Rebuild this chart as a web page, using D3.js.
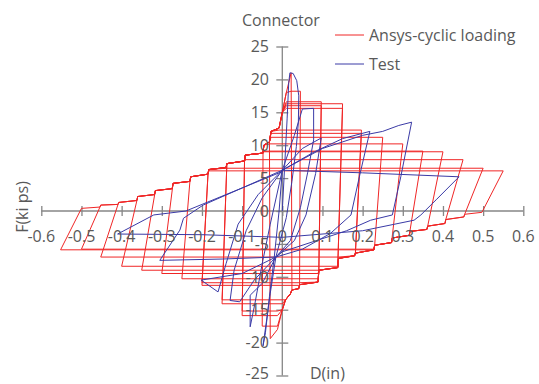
<!DOCTYPE html>
<html><head><meta charset="utf-8">
<script src="https://cdn.jsdelivr.net/npm/d3@7/dist/d3.min.js"></script>
<style>
body{margin:0;background:#fff}
text{font-family:"Open Sans",sans-serif;fill:#595959}
</style>
</head><body>
<svg id="chart" width="539" height="384"></svg>
<script>
// ---------- data ----------
const xTicks = [-0.6,-0.5,-0.4,-0.3,-0.2,-0.1,0,0.1,0.2,0.3,0.4,0.5,0.6];
const xTickLabels = ["-0.6","-0.5","-0.4","-0.3","-0.2","-0.1","0","0.1","0.2","0.3","0.4","0.5","0.6"];
const yTicks = [-25,-20,-15,-10,-5,0,5,10,15,20,25];
const yTickLabels = ["-25","-20","-15","-10","-5","0","5","10","15","20","25"];
const seriesNames = ["Ansys-cyclic loading","Test"];

// Ansys cyclic loops: positive amplitude, top force, unloading offset, negative amplitude, bottom force
const redPosAmp  = [0.022,0.045,0.097,0.097,0.150,0.150,0.197,0.197,0.250,0.300,0.350,0.400,0.450,0.500,0.550];
const redPosTop  = [21.0, 18.2, 16.6, 16.0, 16.3, 15.6, 12.3, 11.8, 11.2, 10.2, 9.1,  9.0,  7.8,  6.5,  6.1];
const redOffset  = [0.000,0.004,0.008,0.008,0.012,0.012,0.017,0.017,0.022,0.028,0.034,0.040,0.045,0.048,0.053];
const redNegAmp  = [0.030,0.050,0.100,0.100,0.150,0.150,0.200,0.200,0.250,0.300,0.350,0.400,0.452,0.500,0.552];
const redNegBot  = [19.4, 17.5, 15.9, 15.2, 14.1, 13.5, 11.3, 10.9, 10.3, 9.5,  9.0,  8.4,  7.0,  5.8,  5.9];

// reloading staircase (upper-left), left to right
const upStairD = [-0.500,-0.454,-0.452,-0.409,-0.407,-0.362,-0.360,-0.318,-0.316,-0.274,-0.272,-0.230,-0.228,-0.185,-0.183,-0.140,-0.138,-0.094,-0.092,-0.048,-0.046,-0.032,-0.028,-0.008,0.000,0.010,0.022];
const upStairF = [ 0.4,  0.6,   0.9,   1.0,   1.3,   1.6,   2.2,   2.5,   3.1,   3.4,   4.2,   4.5,   5.2,   5.6,   6.3,   6.6,   7.2,   7.6,   8.5,   8.8,   10.0,  10.5,  12.1,  12.6,  15.0,  18.0,  21.0];
// unloading staircase (lower-right), right to left
const loStairD = [0.497,0.454,0.452,0.407,0.405,0.362,0.360,0.318,0.316,0.274,0.272,0.230,0.228,0.182,0.180,0.140,0.138,0.091,0.089,0.043,0.041,0.024,0.020,0.008,0.000,-0.012,-0.030];
const loStairF = [-0.2, -0.5, -0.9, -1.3, -1.9, -2.3, -2.8, -3.1, -3.7, -4.1, -4.8, -5.2, -5.9, -6.4, -6.8, -7.2, -8.6, -9.0, -10.8,-11.2,-11.8,-12.0,-12.6,-13.5,-15.0,-18.0,-19.5];

// Test curve (displacement in, force kips)
const blueD = [0,0.006,0.012,0.016,0.019,0.027,0.036,0.041,0.040,0.035,0.024,0.010,-0.016,-0.030,-0.040,-0.048,-0.042,-0.032,-0.020,-0.008,0.000,
  0.030,0.050,0.078,0.078,0.063,0.045,0.020,-0.016,-0.050,-0.080,-0.080,-0.068,-0.050,-0.030,0.000,
  0.050,0.097,0.083,0.059,0.030,-0.016,-0.070,-0.106,-0.130,-0.120,-0.090,-0.050,0.000,
  0.080,0.150,0.218,0.193,0.171,0.120,0.050,-0.016,-0.100,-0.202,-0.160,-0.140,-0.110,-0.060,0.000,
  0.100,0.200,0.250,0.290,0.322,0.295,0.274,0.220,0.160,0.000,-0.016,-0.150,-0.305,-0.255,-0.246,-0.197,-0.100,0.000,
  0.200,0.440,0.383,0.345,0.328,0.200,0.000,-0.200,-0.410,-0.320,-0.240,-0.200,-0.100,0.000];
const blueF = [0,7,14,19.5,21.0,20.9,19.8,17.5,13.5,9.8,4.5,-1,-7,-12.5,-17,-20.5,-18.5,-13,-7,0,6.2,
  11.5,15.5,15.6,10.8,5.8,0.5,-4.5,-7,-11,-12.8,-17.6,-14,-8,-2,6.2,
  9.5,11.1,5.7,-0.6,-4.5,-7,-10.5,-13.8,-13.6,-9,-3,2,6.2,
  9.0,11.0,12.1,5.5,-0.6,-3.4,-5.8,-7,-9.5,-10.5,-12.3,-8,-2,2.5,6.2,
  9.5,11.5,12.1,13.0,13.5,5.2,-0.6,-1.4,-3.0,-6.2,-7,-7.3,-7.5,-2.9,-1.1,0.9,3.5,6.2,
  5.8,5.2,1.7,-0.6,-1.4,-3.0,-4.0,-3.6,-3.5,-0.6,0.0,1.0,3.5,6.0];

// ---------- chart ----------
const svg = d3.select("#chart");
const x = d3.scaleLinear().domain([-0.6,0.6]).range([41.3,523.3]);
const y = d3.scaleLinear().domain([-25,25]).range([375.5,46.5]);
const axisColor = "#868686";

// axes
const gx = svg.append("g").attr("transform",`translate(0,${y(0)-5})`)
  .call(d3.axisBottom(x).tickValues(xTicks).tickSize(10).tickSizeOuter(0).tickFormat(""));
gx.select(".domain").remove();
gx.selectAll("line").attr("stroke",axisColor).attr("stroke-width",1.3);
svg.append("line").attr("x1",x(-0.6)).attr("x2",x(0.6)).attr("y1",y(0)).attr("y2",y(0))
  .attr("stroke",axisColor).attr("stroke-width",1.3);

const gy = svg.append("g").attr("transform",`translate(${x(0)-6},0)`)
  .call(d3.axisRight(y).tickValues(yTicks).tickSize(12).tickSizeOuter(0).tickFormat(""));
gy.select(".domain").remove();
gy.selectAll("line").attr("stroke",axisColor).attr("stroke-width",1.3);
svg.append("line").attr("x1",x(0)).attr("x2",x(0)).attr("y1",y(-25)).attr("y2",y(25))
  .attr("stroke",axisColor).attr("stroke-width",1.3);

// red loops
function buildLoop(i){
  const dp=redPosAmp[i], T=redPosTop[i], u=redOffset[i], dn=redNegAmp[i], B=redNegBot[i];
  const pts=[[-dn,-B]];
  let started=false;
  for(let k=0;k<upStairD.length;k++){
    if(!started && upStairD[k] < -dn+u-0.002) continue;
    started=true;
    if(upStairF[k] >= T){pts.push([upStairD[k],T]);break;}
    pts.push([upStairD[k],upStairF[k]]);
  }
  pts.push([dp,T]);
  for(let k=0;k<loStairD.length;k++){
    if(loStairD[k] > dp-u+0.002) continue;
    if(loStairF[k] <= -B){pts.push([loStairD[k],-B]);break;}
    pts.push([loStairD[k],loStairF[k]]);
  }
  pts.push([-dn,-B]);
  return pts;
}
const line = d3.line().x(d=>x(d[0])).y(d=>y(d[1]));
const loops = d3.range(redPosAmp.length).map(buildLoop);
svg.append("g").selectAll("path").data(loops).join("path")
  .attr("d",line).attr("fill","none").attr("stroke","#f02626").attr("stroke-width",1);

// blue test curve
const bluePts = blueD.map((d,i)=>[d,blueF[i]]);
svg.append("path").datum(bluePts).attr("d",line).attr("fill","none")
  .attr("stroke","#3a3aa6").attr("stroke-width",1).attr("stroke-linejoin","round");

// tick labels
svg.append("g").selectAll("text").data(xTicks).join("text")
  .attr("x",d=>x(d)).attr("y",242).attr("text-anchor","middle")
  .attr("font-size",16).text((d,i)=>xTickLabels[i]);
svg.append("g").selectAll("text").data(yTicks).join("text")
  .attr("x",269).attr("y",d=>y(d)).attr("dy",d=>d===-25?"0.22em":"0.36em").attr("text-anchor","end")
  .attr("font-size",16).text((d,i)=>yTickLabels[i]);

// titles
svg.append("text").attr("x",242).attr("y",26).attr("font-size",16).text("Connector");
svg.append("text").attr("x",310).attr("y",379).attr("font-size",16).text("D(in)");
svg.append("text").attr("transform","translate(28,207) rotate(-90)").attr("text-anchor","middle")
  .attr("font-size",16).text("F(ki ps)");

// legend
const legColors = ["#f02626","#3a3aa6"];
const legY = [35,64];
seriesNames.forEach((n,i)=>{
  svg.append("line").attr("x1",335).attr("x2",364).attr("y1",legY[i]).attr("y2",legY[i])
    .attr("stroke",legColors[i]).attr("stroke-width",1);
  svg.append("text").attr("x",369).attr("y",legY[i]).attr("dy","0.36em").attr("font-size",16).text(n);
});
</script>
</body></html>
